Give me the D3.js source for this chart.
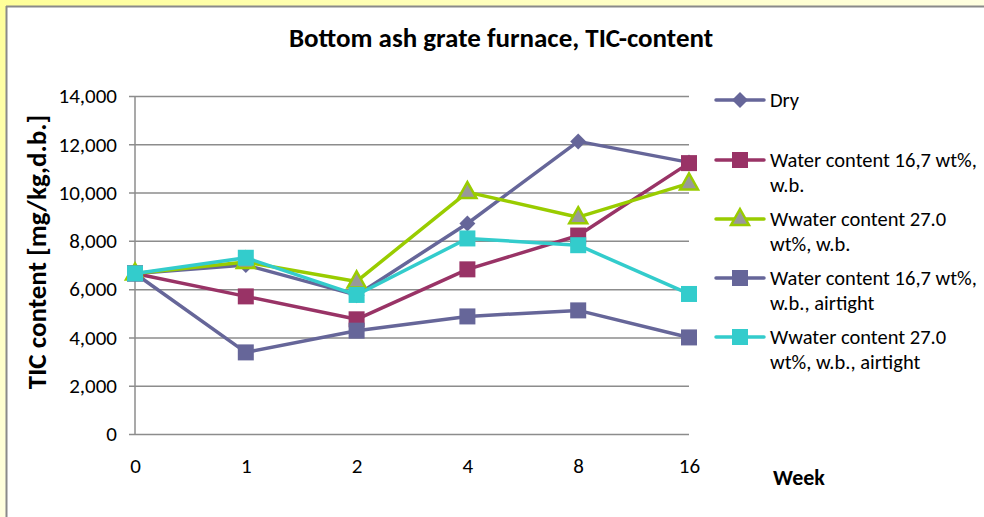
<!doctype html>
<html>
  <head>
    <meta charset="utf-8">
    <script src="https://cdn.jsdelivr.net/npm/d3@7/dist/d3.min.js"></script>
    <style>
      body { margin: 0; }
      text { font-family: Carlito, "Liberation Sans", sans-serif; }
      .grid line { stroke: #8c8c8c; stroke-width: 1.5; }
      .grid path { stroke-width: 0; }
    </style>
  </head>
  <body>
    <script>
    // data
    var weeks = ['0', '1', '2', '4', '8', '16'];
    var yTicks = [0, 2000, 4000, 6000, 8000, 10000, 12000, 14000];

    var dry        = [6650, 7000, 5750, 8720, 12120, 11250];
    var wc167      = [6650, 5700, 4750, 6820, 8220, 11220];
    var wc270      = [6650, 7120, 6320, 10020, 8980, 10380];
    var wc167Air   = [6650, 3380, 4280, 4870, 5120, 4000];
    var wc270Air   = [6650, 7300, 5760, 8100, 7820, 5800];

    var seriesNames = [
      ['Dry'],
      ['Water content 16,7 wt%,', 'w.b.'],
      ['Wwater content 27.0', 'wt%, w.b.'],
      ['Water content 16,7 wt%,', 'w.b., airtight'],
      ['Wwater content 27.0', 'wt%, w.b., airtight']
    ];
    var seriesValues = [dry, wc167, wc270, wc167Air, wc270Air];
    var seriesColors = ['#666699', '#993366', '#99cc00', '#666699', '#33cccc'];
    var seriesMarkers = ['diamond', 'square', 'triangle', 'square', 'square'];

    var width = 984, height = 517;
    var svg = d3.select('body').append('svg')
      .attr('width', width).attr('height', height);

    // yellow frame
    var defs = svg.append('defs');
    var gTop = defs.append('linearGradient').attr('id', 'gTop');
    gTop.append('stop').attr('offset', '0%').attr('stop-color', '#ffff99');
    gTop.append('stop').attr('offset', '100%').attr('stop-color', '#ffffe0');
    var gLeft = defs.append('linearGradient').attr('id', 'gLeft')
      .attr('x1', 0).attr('y1', 0).attr('x2', 0).attr('y2', 1);
    gLeft.append('stop').attr('offset', '0%').attr('stop-color', '#ffff99');
    gLeft.append('stop').attr('offset', '100%').attr('stop-color', '#ffffe0');

    svg.append('rect').attr('x', 0).attr('y', 0).attr('width', width).attr('height', 7)
      .attr('fill', 'url(#gTop)');
    svg.append('rect').attr('x', 0).attr('y', 0).attr('width', 7).attr('height', height)
      .attr('fill', 'url(#gLeft)');
    svg.append('rect').attr('x', 7).attr('y', 7).attr('width', width - 7).attr('height', height - 7)
      .attr('fill', '#fff');
    svg.append('line').attr('x1', 6.5).attr('x2', 6.5).attr('y1', 6).attr('y2', height)
      .attr('stroke', '#8a8a8a').attr('stroke-width', 2);
    svg.append('line').attr('x1', 6).attr('x2', width).attr('y1', 6.5).attr('y2', 6.5)
      .attr('stroke', '#8a8a8a').attr('stroke-width', 2);

    var margin = { left: 135, top: 96, right: 295, bottom: 83 };
    var innerWidth = width - margin.left - margin.right;
    var innerHeight = height - margin.top - margin.bottom;

    var g = svg.append('g')
      .attr('transform', 'translate(' + margin.left + ',' + margin.top + ')');

    var x = d3.scalePoint().domain(weeks).range([0, innerWidth]);
    var y = d3.scaleLinear().domain([0, 14000]).range([innerHeight, 0]);

    // gridlines
    g.append('g')
      .attr('class', 'grid')
      .call(d3.axisLeft(y).tickValues(yTicks).tickSize(-innerWidth - 6).tickFormat(''))
      .attr('transform', 'translate(-6,0)');

    // y axis line
    g.append('line').attr('x1', 0).attr('x2', 0).attr('y1', 0).attr('y2', innerHeight)
      .attr('stroke', '#8c8c8c').attr('stroke-width', 1.5);

    // y tick labels
    var yAxis = d3.axisLeft(y).tickValues(yTicks).tickSize(0).tickPadding(18)
      .tickFormat(d3.format(','));
    var ya = g.append('g').call(yAxis);
    ya.select('.domain').remove();
    ya.selectAll('text').attr('font-size', '21px').attr('fill', '#000')
      .style('font-family', 'Carlito, "Liberation Sans", sans-serif');

    // x tick labels
    var xAxis = d3.axisBottom(x).tickSize(0).tickPadding(24);
    var xa = g.append('g').attr('transform', 'translate(0,' + innerHeight + ')').call(xAxis);
    xa.select('.domain').remove();
    xa.selectAll('text').attr('font-size', '21px').attr('fill', '#000')
      .style('font-family', 'Carlito, "Liberation Sans", sans-serif');

    var line = d3.line()
      .x(function(d, i) { return x(weeks[i]); })
      .y(function(d) { return y(d); });

    function marker(sel, type, color) {
      if (type === 'diamond') {
        sel.append('path').attr('d', 'M0,-8L8,0L0,8L-8,0Z').attr('fill', color);
      } else if (type === 'square') {
        sel.append('rect').attr('x', -8).attr('y', -8).attr('width', 16).attr('height', 16)
          .attr('fill', color);
      } else {
        sel.append('path').attr('d', 'M0,-10L9,6L-9,6Z')
          .attr('fill', '#999999').attr('stroke', color).attr('stroke-width', 2.5)
          .attr('stroke-linejoin', 'miter');
      }
    }

    seriesValues.forEach(function(vals, k) {
      g.append('path')
        .datum(vals)
        .attr('fill', 'none')
        .attr('stroke', seriesColors[k])
        .attr('stroke-width', 3.5)
        .attr('stroke-linejoin', 'round')
        .attr('d', line);
      vals.forEach(function(v, i) {
        var m = g.append('g')
          .attr('transform', 'translate(' + x(weeks[i]) + ',' + y(v) + ')');
        marker(m, seriesMarkers[k], seriesColors[k]);
      });
    });

    // legend
    var legendY = [100, 160, 219, 278, 337];
    seriesNames.forEach(function(lines, k) {
      var lg = svg.append('g').attr('transform', 'translate(716,' + legendY[k] + ')');
      lg.append('line').attr('x1', 0).attr('x2', 48).attr('y1', 0).attr('y2', 0)
        .attr('stroke', seriesColors[k]).attr('stroke-width', 3.5).attr('stroke-linecap', 'round');
      var m = lg.append('g').attr('transform', 'translate(24,0)');
      marker(m, seriesMarkers[k], seriesColors[k]);
      lines.forEach(function(t, j) {
        lg.append('text')
          .attr('x', 54).attr('y', j * 25 + 7)
          .attr('font-size', '20.5px')
          .text(t);
      });
    });

    // title
    svg.append('text')
      .attr('x', 501).attr('y', 47)
      .attr('text-anchor', 'middle')
      .attr('font-weight', 'bold').attr('font-size', '27px')
      .text('Bottom ash grate furnace, TIC-content');

    // y title
    svg.append('text')
      .attr('transform', 'translate(46,252) rotate(-90)')
      .attr('text-anchor', 'middle')
      .attr('font-weight', 'bold').attr('font-size', '27px')
      .text('TIC content [mg/kg,d.b.]');

    // x title
    svg.append('text')
      .attr('x', 799).attr('y', 485)
      .attr('text-anchor', 'middle')
      .attr('font-weight', 'bold').attr('font-size', '22px')
      .text('Week');
    </script>
  </body>
</html>
